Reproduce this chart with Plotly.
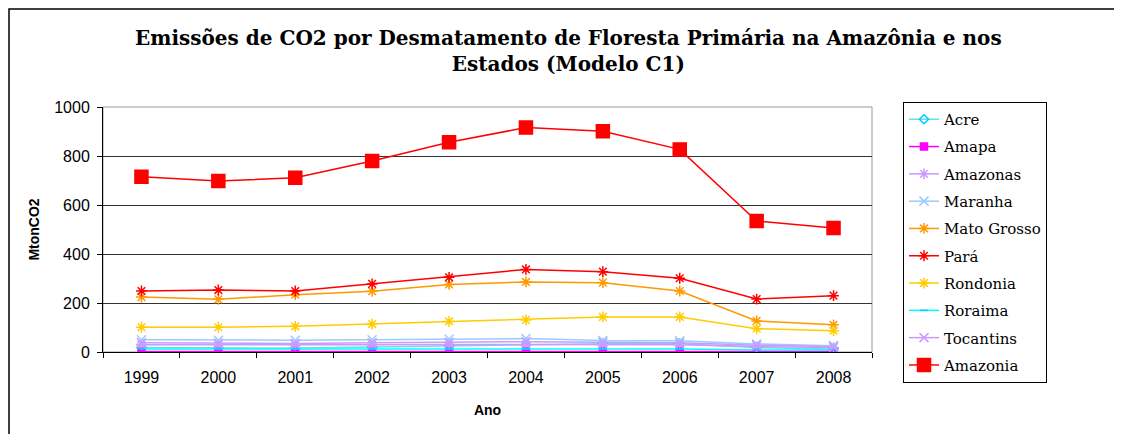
import plotly.graph_objects as go

years = ["1999", "2000", "2001", "2002", "2003", "2004", "2005", "2006", "2007", "2008"]

acre = [18, 17, 16, 20, 24, 30, 34, 34, 18, 12]
amapa = [2, 2, 2, 2, 3, 3, 3, 3, 2, 2]
amazonas = [30, 29, 28, 30, 31, 30, 30, 30, 22, 18]
maranha = [50, 48, 48, 50, 53, 55, 47, 46, 33, 26]
mato_grosso = [224, 215, 234, 248, 276, 286, 283, 249, 127, 111]
para = [249, 253, 249, 278, 305, 337, 328, 301, 216, 230]
rondonia = [101, 101, 105, 114, 125, 131, 143, 143, 95, 87]
roraima = [12, 12, 12, 10, 10, 12, 12, 12, 8, 8]
tocantins = [38, 36, 35, 38, 40, 42, 40, 38, 28, 22]
amazonia = [715, 698, 711, 780, 856, 916, 901, 827, 535, 506]

series = [
    ("Acre", acre, "#66E0E6", "diamond-open", 7, "#00CCFF"),
    ("Amapa", amapa, "#FF00FF", "square", 7, "#FF00FF"),
    ("Amazonas", amazonas, "#CC99FF", "asterisk-open", 9, "#CC99FF"),
    ("Maranha", maranha, "#99CCFF", "x-thin-open", 9, "#99CCFF"),
    ("Mato Grosso", mato_grosso, "#FF9900", "asterisk-open", 9, "#FF9900"),
    ("Pará", para, "#FF0000", "asterisk-open", 9, "#FF0000"),
    ("Rondonia", rondonia, "#FFCC00", "asterisk-open", 9, "#FFCC00"),
    ("Roraima", roraima, "#00FFFF", "line-ew-open", 6, "#00CCFF"),
    ("Tocantins", tocantins, "#CC99FF", "x-thin-open", 9, "#CC99FF"),
    ("Amazonia", amazonia, "#FF0000", "square", 13, "#FF0000"),
]

fig = go.Figure()
for i, (name, vals, color, sym, size, mcolor) in enumerate(series):
    fig.add_trace(go.Scatter(
        x=years, y=vals, name=name, mode="lines+markers",
        line=dict(color=color, width=1.5),
        marker=dict(symbol=sym, size=size, color=mcolor,
                    line=dict(color=mcolor, width=1.5)),
        legendgroup=f"g{i}",
    ))

# page offset of the figure (default body margin)
OFF = 8
W, H = 1122 - OFF, 434 - OFF
# plot area in page pixels
PX0, PX1, PY0, PY1 = 103, 872, 107, 352
L, R, T, B = PX0 - OFF, W - (PX1 - OFF), PY0 - OFF, H - (PY1 - OFF)
pw, ph = W - L - R, H - T - B

def px(x):
    return (x - OFF - L) / pw

def py(y):
    return (H - B - (y - OFF)) / ph

fig.update_layout(
    width=W, height=H,
    margin=dict(l=L, r=R, t=T, b=B, autoexpand=False),
    paper_bgcolor="white", plot_bgcolor="white",
    title=dict(
        text="<b>Emissões de CO2 por Desmatamento de Floresta Primária na Amazônia e nos<br>Estados (Modelo C1)</b>",
        x=0.503, xanchor="center", y=1 - 36.5 / H, yanchor="top",
        font=dict(family="DejaVu Serif", size=20, color="black"),
    ),
    showlegend=True,
    legend=dict(
        x=px(903), xanchor="left", y=py(102), yanchor="top",
        bgcolor="white", bordercolor="black", borderwidth=1,
        font=dict(family="DejaVu Serif", size=15, color="black"),
        tracegroupgap=4.8, traceorder="grouped", itemwidth=30,
        maxheight=400,
    ),
    xaxis=dict(
        type="category", tickson="boundaries", ticks="outside", ticklen=5,
        tickcolor="black", showline=True, linecolor="black", linewidth=1,
        showgrid=False, tickfont=dict(family="Liberation Sans", size=16, color="black"),
        ticklabelstandoff=11,
        title=dict(text="<b>Ano</b>", font=dict(family="Liberation Sans", size=14, color="black"), standoff=19),
        range=[-0.5, 9.5],
    ),
    yaxis=dict(
        range=[0, 1000], dtick=200, ticks="outside", ticklen=5, tickcolor="black",
        showline=True, linecolor="black", linewidth=1,
        showgrid=True, gridcolor="#333333", gridwidth=1,
        tickfont=dict(family="Liberation Sans", size=16, color="black"),
        ticklabelstandoff=4,
        title=dict(text="<b>MtonCO2</b>", font=dict(family="Liberation Sans", size=14, color="black"), standoff=11),
        zeroline=False,
    ),
    shapes=[
        dict(type="rect", xref="paper", yref="paper", x0=0, x1=1, y0=0, y1=1,
             line=dict(color="#999999", width=1), layer="below"),
        dict(type="rect", xref="paper", yref="paper",
             x0=px(OFF + 1), x1=px(1140), y0=py(460), y1=py(OFF + 1),
             line=dict(color="black", width=1.5), layer="below"),
    ],
)

fig.write_html("out.html")
